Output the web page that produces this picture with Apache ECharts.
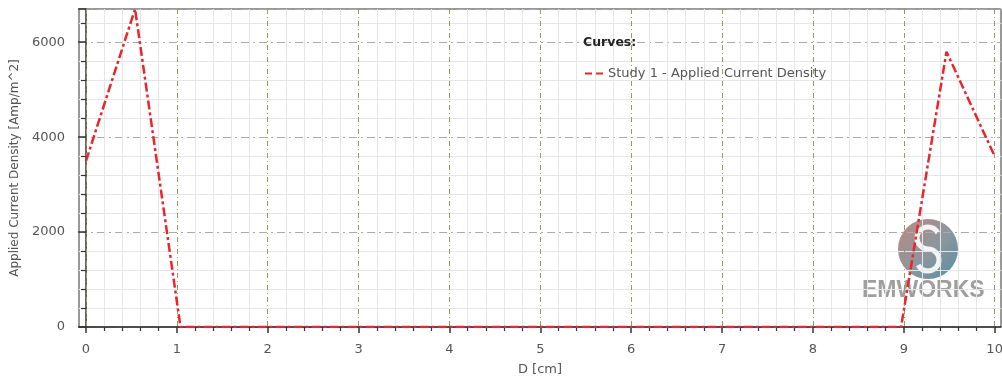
<!DOCTYPE html>
<html><head><meta charset="utf-8">
<script src="https://cdn.jsdelivr.net/npm/echarts@6/dist/echarts.min.js"></script>
<style>html,body{margin:0;padding:0;background:#fff}#c{width:1002px;height:381px}</style>
</head><body><div id="c"></div>
<script>
// Data
const dValues = [0, 0.54, 1.04, 8.97, 9.47, 10];
const densityValues = [3500, 6700, 0, 0, 5800, 3600];
const xTickLabels = [0, 1, 2, 3, 4, 5, 6, 7, 8, 9, 10];
const yTickLabels = [0, 2000, 4000, 6000];
const seriesName = 'Study 1 - Applied Current Density';

// minor x ticks: subdivide each major interval into 5
const xMinor = [];
for (let i = 0; i < xTickLabels.length - 1; i++) {
  const a = xTickLabels[i], b = xTickLabels[i + 1];
  for (let k = 1; k < 5; k++) xMinor.push(+(a + (b - a) * k / 5).toFixed(3));
}

const FONT = '"DejaVu Sans", sans-serif';
const TXT = '#555';
const chart = echarts.init(document.getElementById('c'));
const XMIN = -0.077, XMAX = 10.07;
chart.setOption({
  animation: false,
  textStyle: { fontFamily: FONT },
  title: {
    text: 'Curves:', left: 578, top: 31,
    textStyle: { fontSize: 12.5, fontWeight: 'bold', color: '#222', fontFamily: FONT }
  },
  legend: {
    left: 580, top: 62, data: [seriesName],
    icon: 'path://M0,0h7v2h-7z M11,0h7v2h-7z',
    itemWidth: 18, itemHeight: 3, itemGap: 6,
    textStyle: { fontSize: 13, color: TXT, fontFamily: FONT }
  },
  grid: {
    left: 79, right: 1, top: 9, bottom: 54,
    outerBoundsMode: 'none', containLabel: false,
    show: true, borderColor: '#333', borderWidth: 1
  },
  xAxis: [{
    type: 'value', min: XMIN, max: XMAX,
    name: 'D [cm]', nameLocation: 'middle', nameGap: 36,
    nameTextStyle: { fontSize: 13, color: TXT },
    axisLine: { show: true, lineStyle: { color: '#333', width: 1.5 } },
    axisTick: { show: true, length: 6, customValues: xTickLabels, lineStyle: { color: '#333', width: 1.5 } },
    axisLabel: { customValues: xTickLabels, fontSize: 13, color: TXT, margin: 16 },
    splitLine: { show: true, lineStyle: { color: '#9a9a5e', type: [5, 3, 1, 3], width: 1 } },
    z: 3
  }, {
    type: 'value', min: XMIN, max: XMAX, position: 'bottom',
    axisLine: { show: false },
    axisTick: { show: true, length: 4, customValues: xMinor, lineStyle: { color: '#333', width: 1.2 } },
    axisLabel: { show: false, customValues: xMinor },
    splitLine: { show: true, lineStyle: { color: '#e6e6e6', width: 1 } },
    z: 1
  }],
  yAxis: {
    type: 'value', min: 0, max: 6700, interval: 2000,
    name: 'Applied Current Density [Amp/m^2]', nameLocation: 'middle', nameGap: 53,
    nameTextStyle: { fontSize: 12, color: TXT },
    axisLine: { show: true, lineStyle: { color: '#333', width: 1.5 } },
    axisTick: { show: true, length: 8, lineStyle: { color: '#333', width: 1.5 } },
    minorTick: { show: true, splitNumber: 5, length: 5, lineStyle: { color: '#333', width: 1.2 } },
    minorSplitLine: { show: true, lineStyle: { color: '#e6e6e6', width: 1 } },
    splitLine: { show: true, lineStyle: { color: '#aaa', type: [8, 4, 2, 4], width: 1 } },
    axisLabel: { fontSize: 13, color: TXT, margin: 14, showMaxLabel: false,
      formatter: v => String(v) }
  },
  graphic: [{
    type: 'group', x: 862, y: 218, z: 0, silent: true,
    children: [{
      type: 'circle', shape: { cx: 66, cy: 31, r: 30 },
      style: {
        fill: new echarts.graphic.LinearGradient(0, 0, 1, 1, [
          { offset: 0, color: 'rgba(175,105,100,0.8)' },
          { offset: 0.55, color: 'rgba(110,125,135,0.8)' },
          { offset: 1, color: 'rgba(55,120,145,0.85)' }
        ])
      }
    }, {
      type: 'arc', shape: { cx: 66, cy: 20, r: 11, startAngle: Math.PI * 0.5, endAngle: Math.PI * 1.85, clockwise: true },
      style: { stroke: 'rgba(255,255,255,0.9)', lineWidth: 5, fill: null }
    }, {
      type: 'arc', shape: { cx: 66, cy: 42, r: 11, startAngle: Math.PI * 1.5, endAngle: Math.PI * 2.85, clockwise: true },
      style: { stroke: 'rgba(255,255,255,0.9)', lineWidth: 5, fill: null }
    }, {
      type: 'text', x: 0, y: 61,
      style: { text: 'EMWORKS', fontSize: 23, fontWeight: 'bold', fill: 'rgba(125,125,125,0.75)', fontFamily: '"Liberation Sans", Arial, sans-serif' }
    }]
  }],
  series: [{
    name: seriesName, type: 'line', xAxisIndex: 0,
    data: dValues.map((d, i) => [d, densityValues[i]]),
    symbol: 'none', clip: true,
    lineStyle: { color: '#e8262b', width: 2.5, type: [9, 3, 3, 3] },
    itemStyle: { color: '#e8262b' },
    z: 5
  }]
});
</script></body></html>
